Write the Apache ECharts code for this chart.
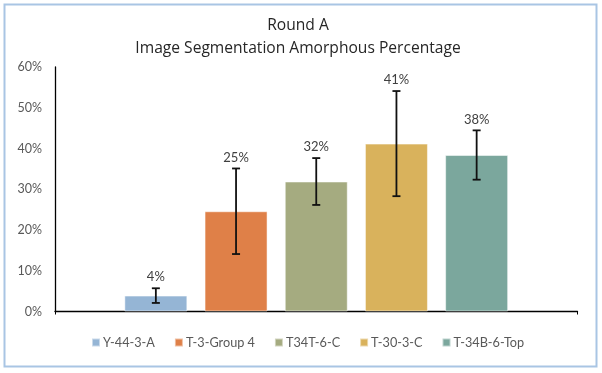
<!DOCTYPE html>
<html>
<head>
<meta charset="utf-8">
<script src="https://cdn.jsdelivr.net/npm/echarts@6/dist/echarts.min.js"></script>
<style>
html,body{margin:0;padding:0;background:#fff;}
#c{width:602px;height:373px;}
</style>
</head>
<body>
<div id="c"></div>
<script>
// ---- data ----
const titleLines = ['Round A', 'Image Segmentation Amorphous Percentage'];
const seriesNames = ['Y-44-3-A', 'T-3-Group 4', 'T34T-6-C', 'T-30-3-C', 'T-34B-6-Top'];
const seriesValues = [0.039, 0.246, 0.319, 0.412, 0.384];
const seriesErrors = [0.018, 0.105, 0.0575, 0.129, 0.0605];
const seriesColors = ['#95B5D5', '#DF8048', '#A5AB80', '#D9B25C', '#7BA79D'];
const yTicks = [0, 0.1, 0.2, 0.3, 0.4, 0.5, 0.6];

// ---- layout params ----
const BAR_W = 63;
const BAR_GAP = 0.273;
const PITCH = BAR_W * (1 + BAR_GAP);
const N = seriesNames.length;
const FONT = 'Lato';

const chart = echarts.init(document.getElementById('c'), null, {renderer: 'canvas'});

const barSeries = seriesNames.map((name, i) => ({
  name: name,
  type: 'bar',
  data: [seriesValues[i]],
  barWidth: BAR_W,
  barGap: (BAR_GAP * 100) + '%',
  itemStyle: {color: seriesColors[i], borderColor: 'rgba(255,255,255,0.5)', borderWidth: 1},
  emphasis: {disabled: true},
  z: 2
}));

const errData = seriesValues.map((v, i) => [0, v, seriesErrors[i], i]);

const errSeries = {
  type: 'custom',
  name: 'err',
  data: errData,
  encode: {x: 0, y: 1},
  z: 5,
  silent: true,
  renderItem: function (params, api) {
    const v = api.value(1), e = api.value(2), idx = api.value(3);
    const base = api.coord([0, v]);
    const x = base[0] + (idx - (N - 1) / 2) * PITCH;
    const yTop = api.coord([0, v + e])[1];
    const yBot = api.coord([0, v - e])[1];
    const cap = 4;
    const st = {stroke: '#111', lineWidth: 1.8};
    return {
      type: 'group',
      children: [
        {type: 'line', shape: {x1: x, y1: yTop, x2: x, y2: yBot}, style: st},
        {type: 'line', shape: {x1: x - cap, y1: yTop, x2: x + cap, y2: yTop}, style: st},
        {type: 'line', shape: {x1: x - cap, y1: yBot, x2: x + cap, y2: yBot}, style: st},
        {type: 'text', x: x, y: yTop - 11, style: {
          text: Math.round(v * 100) + '%', align: 'center', verticalAlign: 'middle',
          fill: '#404040', font: '13px ' + FONT
        }}
      ]
    };
  }
};

chart.setOption({
  backgroundColor: '#fff',
  animation: false,
  title: {
    text: titleLines.join('\n'),
    left: 293,
    top: 9,
    textAlign: 'center',
    textStyle: {fontFamily: 'Open Sans', fontSize: 15.6, fontWeight: 'normal', color: '#262626', lineHeight: 23}
  },
  graphic: [{
    type: 'rect',
    shape: {x: 4.5, y: 4.5, width: 592, height: 362},
    style: {fill: 'none', stroke: '#A9C5E4', lineWidth: 2},
    silent: true,
    z: -1
  }],
  legend: {
    data: seriesNames,
    bottom: 19,
    left: 86,
    icon: 'rect',
    itemWidth: 8,
    itemHeight: 8,
    itemGap: 19,
    textStyle: {fontFamily: FONT, fontSize: 12.7, color: '#595959', padding: [0, 0, 0, -2]}
  },
  grid: {left: 55, right: 24.5, top: 67, bottom: 61.5, containLabel: false},
  xAxis: {
    type: 'category',
    data: [''],
    axisLine: {lineStyle: {color: '#000', width: 1.3}},
    axisTick: {show: true, length: 3, lineStyle: {color: '#000'}},
    axisLabel: {show: false}
  },
  yAxis: {
    type: 'value',
    min: yTicks[0],
    max: yTicks[yTicks.length - 1],
    interval: 0.1,
    axisLine: {show: true, lineStyle: {color: '#000', width: 1.3}},
    axisTick: {show: false},
    splitLine: {show: false},
    axisLabel: {
      margin: 13,
      fontFamily: FONT, fontSize: 12.5, color: '#595959',
      formatter: v => Math.round(v * 100) + '%'
    }
  },
  series: barSeries.concat([errSeries])
});
</script>
</body>
</html>
